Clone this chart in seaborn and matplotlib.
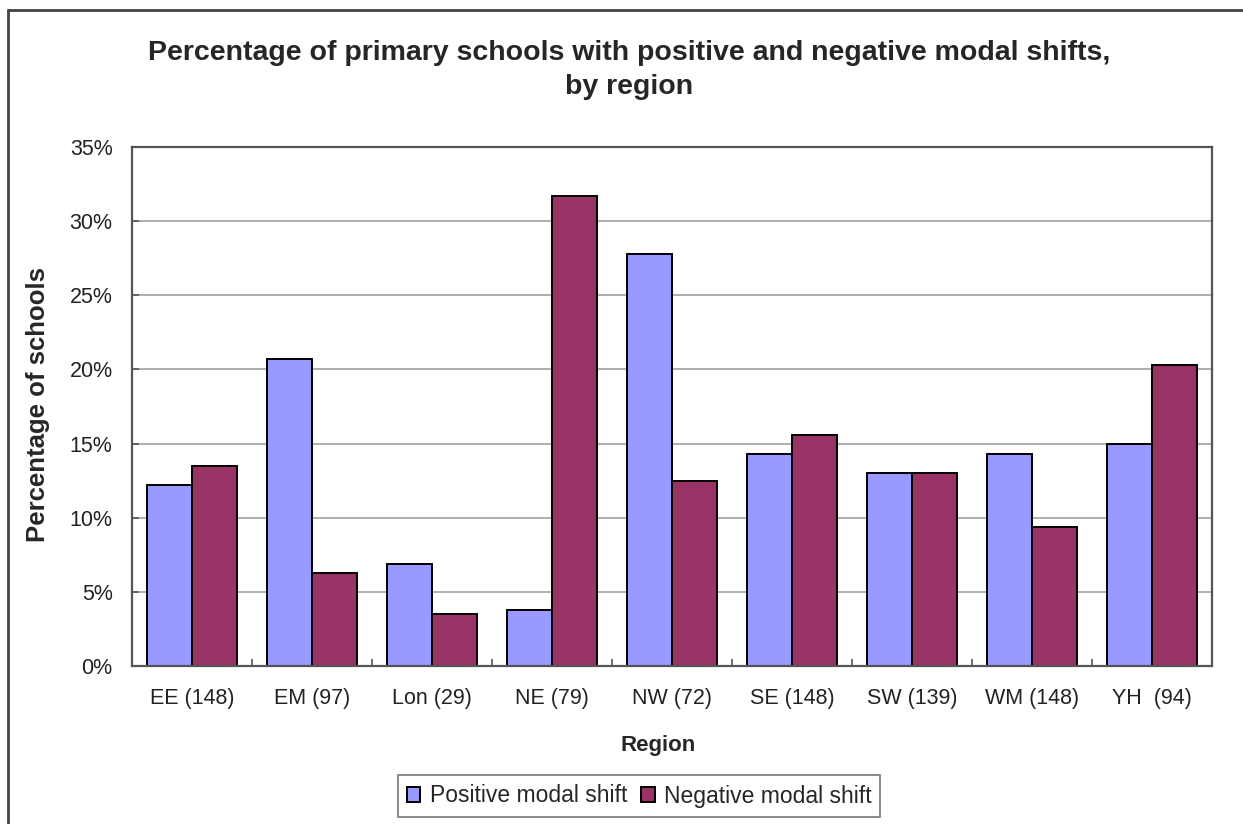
import matplotlib
matplotlib.use('Agg')
import matplotlib.pyplot as plt
from matplotlib.lines import Line2D
from matplotlib.ticker import PercentFormatter, FixedLocator
import seaborn as sns
import pandas as pd

# values
regions = ['EE (148)', 'EM (97)', 'Lon (29)', 'NE (79)', 'NW (72)',
           'SE (148)', 'SW (139)', 'WM (148)', 'YH  (94)']
positive_shift = [12.2, 20.7, 6.9, 3.8, 27.8, 14.3, 13.0, 14.3, 15.0]
negative_shift = [13.5, 6.3, 3.5, 31.7, 12.5, 15.6, 13.0, 9.4, 20.3]
series_names = ['Positive modal shift', 'Negative modal shift']
series_colors = ['#9999FF', '#993366']

df = pd.DataFrame({
    'Region': regions * 2,
    'pct': positive_shift + negative_shift,
    'series': [series_names[0]] * len(regions) + [series_names[1]] * len(regions),
})

sns.set_style('white')
plt.rcParams['font.family'] = ['Liberation Sans', 'DejaVu Sans']

fig = plt.figure(figsize=(12.43, 8.24), dpi=100)
ax = fig.add_axes([132 / 1243, 1 - 666 / 824, 1080 / 1243, 519 / 824])

sns.barplot(data=df, x='Region', y='pct', hue='series', palette=series_colors,
            saturation=1, width=0.75, gap=0, edgecolor='black', linewidth=1.4, ax=ax)

ax.set_ylim(0, 35)
ax.set_xlim(-0.5, len(regions) - 0.5)
ax.yaxis.set_major_locator(FixedLocator(range(0, 36, 5)))
ax.yaxis.set_major_formatter(PercentFormatter(decimals=0))
ax.grid(axis='y', color='#a8a8a8', linewidth=1.3)
ax.set_axisbelow(True)
for s in ax.spines.values():
    s.set_color('#555555')
    s.set_linewidth(1.6)

ax.tick_params(axis='y', direction='in', length=5, width=1.2, color='#555555',
               pad=14, labelsize=15.5, labelcolor='#222222', left=True)
ax.tick_params(axis='x', length=0, pad=16, labelsize=15.5, labelcolor='#222222')
ax.set_xticks([i + 0.5 for i in range(len(regions) - 1)], minor=True)
ax.tick_params(axis='x', which='minor', direction='in', length=5, width=1.2,
               color='#555555', bottom=True)

ax.set_xlabel('Region', fontsize=16, fontweight='bold', va='center')
ax.xaxis.set_label_coords((658 - 132) / 1080, (666 - 745) / 519)
ax.set_ylabel('Percentage of schools', fontsize=18.5, fontweight='bold', va='center')
ax.yaxis.set_label_coords((38 - 132) / 1080, (666 - 404) / 519)

fig.text(629 / 1243, 1 - 70 / 824,
         'Percentage of primary schools with positive and negative modal shifts,\nby region',
         ha='center', va='center', fontsize=20.5, fontweight='bold', linespacing=1.45)

handles, labels = ax.get_legend_handles_labels()
ax.legend(handles, labels, loc='center', bbox_to_anchor=(639 / 1243, 1 - 796 / 824),
          bbox_transform=fig.transFigure, ncol=2, fontsize=16.5, frameon=True,
          fancybox=False, edgecolor='#777777', framealpha=1, handlelength=0.6,
          handleheight=0.6, handletextpad=0.4, columnspacing=0.6, borderpad=0.4)
ax.get_legend().get_frame().set_linewidth(1.2)

# outer chart border (only top and left visible)
fig.add_artist(Line2D([8 / 1243, 8 / 1243], [0, 1 - 10 / 824], transform=fig.transFigure,
                      color='#444444', linewidth=2))
fig.add_artist(Line2D([8 / 1243, 1], [1 - 10 / 824, 1 - 10 / 824], transform=fig.transFigure,
                      color='#444444', linewidth=2))

fig.savefig('out.png', dpi=100, facecolor='white')
